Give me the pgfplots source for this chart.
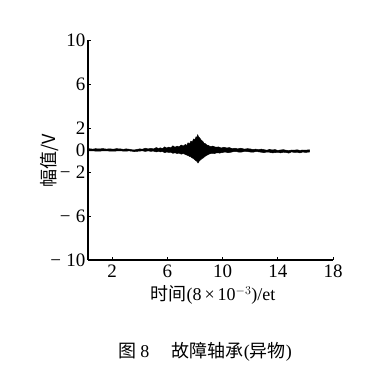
\documentclass[border=0pt]{standalone}
\usepackage{pgfplots}
\pgfplotsset{compat=1.18}
\usepackage{fontspec}
\setmainfont{Liberation Serif}
\newfontfamily\cjk{Noto Sans CJK SC}
\begin{document}
\begin{tikzpicture}
\useasboundingbox[fill=white] (0,0) rectangle (385pt,381pt);
\begin{axis}[
  at={(88pt,121pt)}, anchor=south west,
  scale only axis, width=245pt, height=220pt,
  xmin=0.25, xmax=18, ymin=-10, ymax=10,
  axis x line=bottom, axis y line=left,
  axis line style={line width=1.2pt, -},
  xtick={2,6,10,14,18}, xticklabels={2,6,10,14,18},
  ytick={-10,-6,-2,0,2,6,10},
  yticklabels={−\;10,−\;6,−\;2,0,2,6,10},
  tick align=inside, major tick length=3pt,
  tick style={line width=0.8pt, black},
  ticklabel style={font=\fontsize{19}{19}\selectfont},
  xticklabel style={yshift=-1pt},
  yticklabel style={xshift=1pt},
  xlabel={\cjk 时间\rmfamily(8\,×\,10$^{-3}$)/et},
  xlabel style={at={(axis description cs:0.51,-0.16)}, anchor=center, font=\fontsize{18}{18}\selectfont},
  ylabel={\cjk 幅值/V},
  ylabel style={at={(axis description cs:-0.155,0.45)}, anchor=center, rotate=0, font=\fontsize{18}{18}\selectfont},
  clip=false,
]
\addplot[fill=black, draw=black, line width=0.5pt] coordinates {
(0.3,0.12)(0.6,0.08)(0.8,0.12)(1.1,0.09)(1.3,0.13)(1.6,0.08)(1.8,0.11)(2.1,0.07)(2.3,0.12)(2.6,0.1)(2.8,0.06)(3.0,0.1)(3.2,0.08)(3.4,0.03)(3.6,0.0)(3.8,0.06)(4.0,0.1)(4.2,0.07)(4.4,0.16)(4.6,0.1)(4.8,0.14)(5.0,0.1)(5.2,0.22)(5.35,0.14)(5.5,0.2)(5.65,0.12)(5.8,0.28)(5.95,0.18)(6.1,0.26)(6.25,0.2)(6.4,0.38)(6.55,0.25)(6.7,0.35)(6.85,0.28)(7.0,0.45)(7.15,0.35)(7.3,0.5)(7.4,0.42)(7.5,0.65)(7.6,0.55)(7.7,0.8)(7.8,0.72)(7.9,1.0)(8.0,0.95)(8.08,1.2)(8.14,1.15)(8.2,1.38)(8.26,1.2)(8.32,1.12)(8.4,1.0)(8.48,0.85)(8.56,0.8)(8.65,0.62)(8.75,0.58)(8.85,0.45)(8.95,0.42)(9.1,0.32)(9.3,0.35)(9.5,0.25)(9.7,0.28)(9.9,0.18)(10.1,0.25)(10.3,0.18)(10.5,0.22)(10.7,0.12)(10.9,0.16)(11.1,0.1)(11.3,0.16)(11.6,0.08)(11.8,0.12)(12.0,0.1)(12.2,0.04)(12.4,0.08)(12.6,0.02)(12.8,0.08)(13.0,0.03)(13.2,-0.02)(13.4,0.05)(13.6,0.0)(13.8,0.04)(14.0,-0.04)(14.2,0.0)(14.4,0.03)(14.6,-0.02)(14.8,-0.06)(15.0,0.0)(15.2,-0.02)(15.4,0.02)(15.6,-0.04)(15.8,0.0)(16.0,-0.02)(16.3,0.02)
(16.3,-0.18)(16.0,-0.22)(15.8,-0.18)(15.6,-0.26)(15.4,-0.2)(15.2,-0.22)(15.0,-0.17)(14.8,-0.28)(14.6,-0.22)(14.4,-0.2)(14.2,-0.26)(14.0,-0.2)(13.8,-0.24)(13.6,-0.26)(13.4,-0.2)(13.2,-0.18)(13.0,-0.24)(12.8,-0.2)(12.6,-0.16)(12.4,-0.15)(12.2,-0.2)(12.0,-0.18)(11.8,-0.14)(11.6,-0.12)(11.4,-0.18)(11.2,-0.2)(11.0,-0.14)(10.8,-0.15)(10.6,-0.2)(10.4,-0.24)(10.2,-0.18)(10.0,-0.22)(9.8,-0.28)(9.6,-0.25)(9.4,-0.32)(9.2,-0.3)(9.0,-0.38)(8.9,-0.45)(8.8,-0.52)(8.7,-0.6)(8.6,-0.72)(8.5,-0.78)(8.4,-0.9)(8.3,-1.02)(8.22,-1.18)(8.16,-1.05)(8.08,-0.98)(8.0,-0.9)(7.9,-0.78)(7.8,-0.72)(7.7,-0.62)(7.6,-0.58)(7.5,-0.5)(7.4,-0.46)(7.3,-0.4)(7.15,-0.32)(7.0,-0.38)(6.85,-0.28)(6.7,-0.32)(6.55,-0.25)(6.4,-0.3)(6.25,-0.2)(6.1,-0.22)(5.95,-0.18)(5.8,-0.24)(5.65,-0.14)(5.5,-0.17)(5.35,-0.12)(5.2,-0.18)(5.0,-0.1)(4.8,-0.12)(4.6,-0.08)(4.4,-0.13)(4.2,-0.07)(4.0,-0.1)(3.8,-0.12)(3.6,-0.14)(3.4,-0.1)(3.2,-0.08)(3.0,-0.11)(2.8,-0.1)(2.6,-0.07)(2.3,-0.09)(2.1,-0.11)(1.8,-0.1)(1.6,-0.07)(1.3,-0.08)(1.1,-0.1)(0.8,-0.1)(0.6,-0.07)(0.3,-0.08)
} --cycle;
\end{axis}
\node[anchor=center, font=\fontsize{18}{18}\selectfont] at (205pt,29pt) {\cjk 图\ \rmfamily 8\quad\ \cjk 故障轴承\rmfamily(\cjk 异物\rmfamily)};
\end{tikzpicture}
\end{document}
